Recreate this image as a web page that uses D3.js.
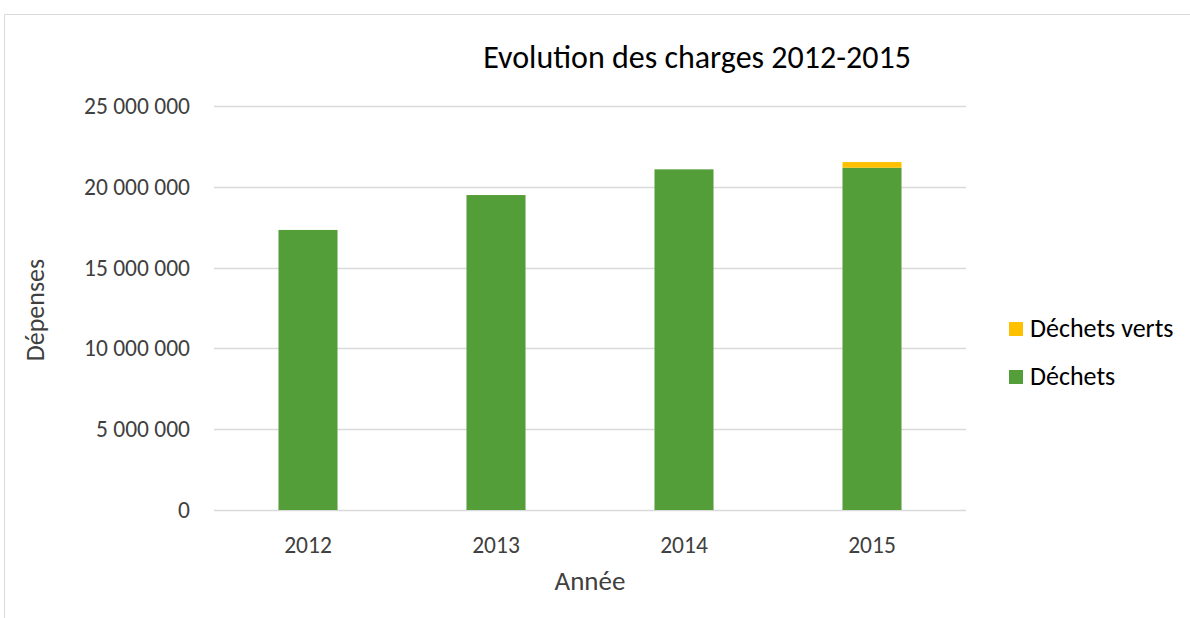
<!DOCTYPE html>
<html>
<head>
<meta charset="utf-8">
<script src="https://cdn.jsdelivr.net/npm/d3@7"></script>
<style>
  html, body { margin: 0; padding: 0; background: #fff; }
  svg { display: block; font-family: Carlito, "Open Sans", "Noto Sans", sans-serif; }
</style>
</head>
<body>
<svg id="chart" width="1190" height="618"></svg>
<script>
// Annual expenses by category (euros)
const years = ["2012", "2013", "2014", "2015"];
const dechets = [17330000, 19490000, 21080000, 21180000];
const dechetsVerts = [0, 0, 0, 350000];
const seriesNames = ["Déchets", "Déchets verts"];
const seriesColors = ["#549E39", "#FFC000"];
const yTicks = [0, 5000000, 10000000, 15000000, 20000000, 25000000];

const svg = d3.select("#chart");
const W = 1190, H = 618;
const fontStack = "Carlito, 'Open Sans', sans-serif";

// chart frame
svg.append("path")
  .attr("d", `M4.5,${H + 2}V14.5H${W + 2}`)
  .attr("fill", "none")
  .attr("stroke", "#d9d9d9")
  .attr("stroke-width", 1);

const plot = { left: 214, right: 966, top: 106, bottom: 510 };

const x = d3.scaleBand()
  .domain(years)
  .range([plot.left, plot.right])
  .paddingInner(0.686)
  .paddingOuter(0.343);

const y = d3.scaleLinear()
  .domain([0, 25000000])
  .range([plot.bottom, plot.top]);

const fmt = v => d3.format(",")(v).replace(/,/g, " ");

// horizontal gridlines
svg.append("g")
  .selectAll("line")
  .data(yTicks)
  .join("line")
  .attr("x1", plot.left)
  .attr("x2", plot.right)
  .attr("y1", d => Math.round(y(d)) + 0.5)
  .attr("y2", d => Math.round(y(d)) + 0.5)
  .attr("stroke", "#d9d9d9")
  .attr("stroke-width", 1.3);

// y axis labels
const yAxis = svg.append("g")
  .attr("transform", `translate(${plot.left - 24},0)`)
  .call(d3.axisLeft(y).tickValues(yTicks).tickFormat(fmt).tickSize(0).tickPadding(0));
yAxis.select(".domain").remove();
yAxis.selectAll("text")
  .attr("fill", "#404040")
  .style("font-size", "23.5px")
  .style("font-family", fontStack);

// x axis labels
const xAxis = svg.append("g")
  .attr("transform", `translate(0,${plot.bottom + 26})`)
  .call(d3.axisBottom(x).tickSize(0).tickPadding(0));
xAxis.select(".domain").remove();
xAxis.selectAll("text")
  .attr("fill", "#404040")
  .style("font-size", "23.5px")
  .style("font-family", fontStack);

// stacked bars
const rows = years.map((yr, i) => ({ year: yr, "Déchets": dechets[i], "Déchets verts": dechetsVerts[i] }));
const stack = d3.stack().keys(seriesNames)(rows);

svg.append("g")
  .selectAll("g")
  .data(stack)
  .join("g")
  .attr("fill", (d, i) => seriesColors[i])
  .selectAll("rect")
  .data(d => d)
  .join("rect")
  .attr("x", d => x(d.data.year))
  .attr("width", x.bandwidth())
  .attr("y", d => y(d[1]))
  .attr("height", d => y(d[0]) - y(d[1]));

// title
svg.append("text")
  .attr("x", 697)
  .attr("y", 68)
  .attr("text-anchor", "middle")
  .attr("fill", "#000")
  .style("font-size", "32px")
  .text("Evolution des charges 2012-2015");

// axis titles
svg.append("text")
  .attr("x", 590)
  .attr("y", 590)
  .attr("text-anchor", "middle")
  .attr("fill", "#404040")
  .style("font-size", "27px")
  .text("Année");

svg.append("text")
  .attr("transform", "translate(44,310) rotate(-90)")
  .attr("text-anchor", "middle")
  .attr("fill", "#404040")
  .style("font-size", "26px")
  .text("Dépenses");

// legend (reversed stack order)
const legendItems = [
  { name: "Déchets verts", color: seriesColors[1] },
  { name: "Déchets", color: seriesColors[0] }
];
const legend = svg.append("g")
  .selectAll("g")
  .data(legendItems)
  .join("g")
  .attr("transform", (d, i) => `translate(1009,${322 + i * 48})`);
legend.append("rect")
  .attr("width", 14)
  .attr("height", 14)
  .attr("fill", d => d.color);
legend.append("text")
  .attr("x", 21)
  .attr("y", 15)
  .attr("fill", "#000")
  .style("font-size", "26px")
  .text(d => d.name);
</script>
</body>
</html>
